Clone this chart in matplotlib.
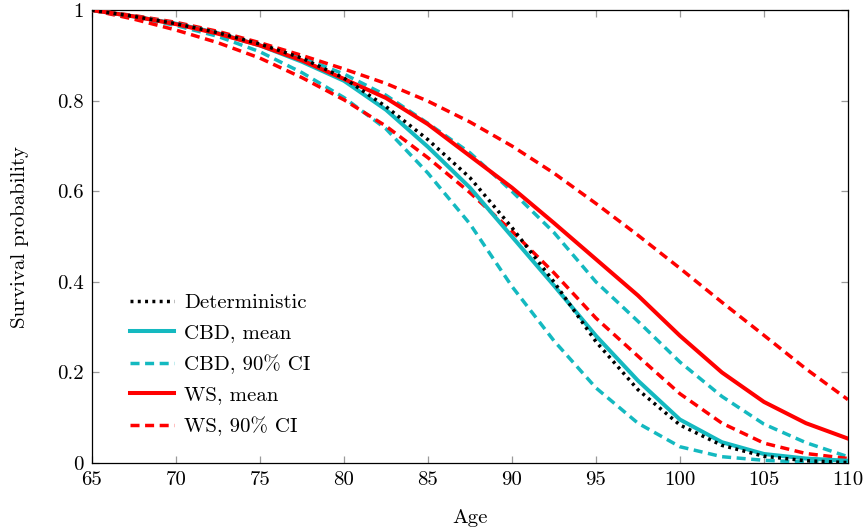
import matplotlib
matplotlib.use("Agg")
import matplotlib.pyplot as plt

plt.rcParams['font.family'] = ['cmr10', 'DejaVu Serif']
plt.rcParams['axes.formatter.use_mathtext'] = True
plt.rcParams['mathtext.fontset'] = 'cm'

ages = [65, 67.5, 70, 72.5, 75, 77.5, 80, 82.5, 85, 87.5, 90, 92.5, 95, 97.5, 100, 102.5, 105, 107.5, 110]

deterministic = [1.000, 0.986, 0.970, 0.950, 0.925, 0.894, 0.850, 0.787, 0.714, 0.630, 0.520, 0.400, 0.268, 0.162, 0.084, 0.039, 0.015, 0.005, 0.001]
cbd_mean = [1.000, 0.986, 0.970, 0.949, 0.922, 0.886, 0.844, 0.780, 0.698, 0.608, 0.500, 0.392, 0.281, 0.182, 0.096, 0.046, 0.020, 0.010, 0.005]
cbd_lo = [1.000, 0.984, 0.966, 0.942, 0.908, 0.862, 0.807, 0.738, 0.640, 0.528, 0.390, 0.270, 0.166, 0.088, 0.036, 0.014, 0.006, 0.002, 0.000]
cbd_hi = [1.000, 0.987, 0.971, 0.951, 0.926, 0.895, 0.859, 0.812, 0.750, 0.685, 0.600, 0.509, 0.400, 0.313, 0.223, 0.147, 0.086, 0.045, 0.014]
ws_mean = [1.000, 0.986, 0.969, 0.948, 0.922, 0.889, 0.848, 0.806, 0.748, 0.678, 0.608, 0.530, 0.450, 0.370, 0.281, 0.200, 0.135, 0.088, 0.054]
ws_lo = [1.000, 0.980, 0.956, 0.928, 0.894, 0.851, 0.802, 0.744, 0.674, 0.597, 0.512, 0.420, 0.320, 0.236, 0.153, 0.088, 0.044, 0.021, 0.010]
ws_hi = [1.000, 0.988, 0.973, 0.953, 0.928, 0.900, 0.870, 0.838, 0.799, 0.753, 0.700, 0.640, 0.573, 0.503, 0.430, 0.355, 0.282, 0.208, 0.140]

x_ticks = [65, 70, 75, 80, 85, 90, 95, 100, 105, 110]
y_ticks = [0, 0.2, 0.4, 0.6, 0.8, 1]
y_tick_labels = ['0', '0.2', '0.4', '0.6', '0.8', '1']

TEAL = '#14b9c0'
RED = '#ff0000'
LW = 2.5
dash = (0, (2.6, 1.6))
dot = (0, (0.85, 1.25))
FS = 15

fig = plt.figure(figsize=(8.67, 5.31), dpi=100)
ax = fig.add_axes([0.106, 0.128, 0.872, 0.853])

ax.plot(ages, deterministic, color='black', lw=LW, linestyle=dot, dash_capstyle='butt', label='Deterministic', zorder=5)
ax.plot(ages, cbd_mean, color=TEAL, lw=LW + 0.4, linestyle='-', label='CBD, mean', zorder=4)
ax.plot(ages, cbd_lo, color=TEAL, lw=LW, linestyle=dash, dash_capstyle='butt', label='CBD, 90% CI', zorder=3)
ax.plot(ages, cbd_hi, color=TEAL, lw=LW, linestyle=dash, dash_capstyle='butt', zorder=3)
ax.plot(ages, ws_mean, color=RED, lw=LW + 0.4, linestyle='-', label='WS, mean', zorder=4)
ax.plot(ages, ws_lo, color=RED, lw=LW, linestyle=dash, dash_capstyle='butt', label='WS, 90% CI', zorder=3)
ax.plot(ages, ws_hi, color=RED, lw=LW, linestyle=dash, dash_capstyle='butt', zorder=3)

ax.set_xlim(65, 110)
ax.set_ylim(0, 1)
ax.set_xticks(x_ticks)
ax.set_xticklabels([str(t) for t in x_ticks])
ax.set_yticks(y_ticks)
ax.set_yticklabels(y_tick_labels)
ax.tick_params(direction='in', length=5, width=0.9, color='#9a9a9a', labelsize=FS,
               top=True, right=True, pad=6)
for s in ax.spines.values():
    s.set_linewidth(0.9)
    s.set_color('black')

ax.set_xlabel('Age', fontsize=FS, labelpad=14)
ax.set_ylabel('Survival probability', fontsize=FS, labelpad=20)

leg = ax.legend(loc='lower left', bbox_to_anchor=(0.015, 0.0), frameon=False, fontsize=FS,
                handlelength=2.1, handletextpad=0.5, labelspacing=0.57, borderaxespad=0.9)

fig.savefig('out.png', dpi=100)
